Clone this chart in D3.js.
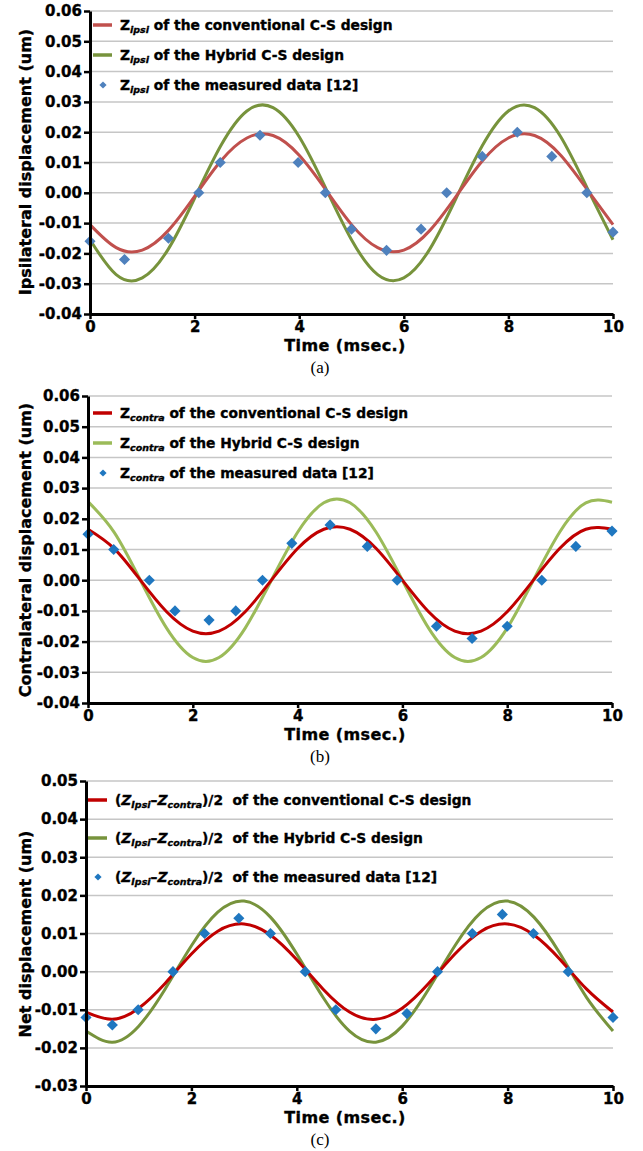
<!DOCTYPE html>
<html lang="en">
<head>
<meta charset="UTF-8">
<title>Ipsilateral / contralateral / net displacement</title>
<script src="https://d3js.org/d3.v7.min.js"></script>
<style>
  body { margin: 0; background: #fff; }
  text { white-space: pre; }
</style>
</head>
<body>
<script>
// sample times for the fitted curves (ms)
var timeGrid = [0, 0.5, 1, 1.5, 2, 2.5, 3, 3.5, 4, 4.5, 5, 5.5, 6, 6.5, 7, 7.5, 8, 8.5, 9, 9.5, 10];

// (a) ipsilateral
var ipsiConv = [-0.0105, -0.0181, -0.0189, -0.0124, -0.0012, 0.0105, 0.0181, 0.0189, 0.0124, 0.0012,
                -0.0105, -0.0181, -0.0189, -0.0124, -0.0012, 0.0105, 0.0181, 0.0189, 0.0124, 0.0012, -0.0105];
var ipsiHybrid = [-0.0155, -0.0270, -0.0281, -0.0185, -0.0018, 0.0155, 0.0270, 0.0281, 0.0185, 0.0018,
                  -0.0155, -0.0270, -0.0281, -0.0185, -0.0018, 0.0155, 0.0270, 0.0281, 0.0185, 0.0018, -0.0155];
var ipsiMeasT = [0, 0.66, 1.5, 2.08, 2.49, 3.25, 3.98, 4.5, 5.0, 5.67, 6.33, 6.82, 7.5, 8.17, 8.83, 9.5, 10];
var ipsiMeasV = [-0.016, -0.022, -0.015, 0, 0.010, 0.019, 0.010, 0, -0.012, -0.019, -0.012, 0, 0.012, 0.020, 0.012, 0, -0.013];

// (b) contralateral
var contraConv = [0.0166, 0.0103, 0, -0.0103, -0.0166, -0.0166, -0.0103, 0, 0.0103, 0.0166,
                  0.0166, 0.0103, 0, -0.0103, -0.0166, -0.0166, -0.0103, 0, 0.0103, 0.0166, 0.0166];
var contraHybrid = [0.0256, 0.0156, 0, -0.0156, -0.0252, -0.0252, -0.0156, 0, 0.0156, 0.0252,
                    0.0252, 0.0156, 0, -0.0156, -0.0252, -0.0252, -0.0156, 0, 0.0156, 0.0252, 0.0254];
var contraMeasT = [0, 0.49, 1.17, 1.66, 2.31, 2.82, 3.33, 3.89, 4.62, 5.33, 5.9, 6.65, 7.33, 8.0, 8.66, 9.31, 10];
var contraMeasV = [0.015, 0.010, 0, -0.010, -0.013, -0.010, 0, 0.012, 0.018, 0.011, 0, -0.015, -0.019, -0.015, 0, 0.011, 0.016];

// (c) net
var netConv = [-0.0106, -0.0125, -0.0096, -0.0031, 0.0046, 0.0106, 0.0125, 0.0096, 0.0031, -0.0046,
               -0.0106, -0.0125, -0.0096, -0.0031, 0.0046, 0.0106, 0.0125, 0.0096, 0.0031, -0.0046, -0.0106];
var netHybrid = [-0.0156, -0.0185, -0.0143, -0.0046, 0.0068, 0.0156, 0.0185, 0.0143, 0.0046, -0.0068,
                 -0.0156, -0.0185, -0.0143, -0.0046, 0.0068, 0.0156, 0.0185, 0.0143, 0.0046, -0.0068, -0.0156];
var netMeasT = [0, 0.5, 0.99, 1.65, 2.25, 2.9, 3.5, 4.16, 4.74, 5.5, 6.09, 6.67, 7.33, 7.9, 8.49, 9.15, 10];
var netMeasV = [-0.012, -0.014, -0.010, 0, 0.010, 0.014, 0.010, 0, -0.010, -0.015, -0.011, 0, 0.010, 0.015, 0.010, 0, -0.012];

// ticks
var xTicks = [0, 2, 4, 6, 8, 10];
var yTicksAB = [-0.04, -0.03, -0.02, -0.01, 0, 0.01, 0.02, 0.03, 0.04, 0.05, 0.06];
var yTicksC = [-0.03, -0.02, -0.01, 0, 0.01, 0.02, 0.03, 0.04, 0.05];

var W = 643, H = 1151;
var sans = "'DejaVu Sans', Verdana, sans-serif";

var svg = d3.select('body').append('svg')
    .attr('width', W)
    .attr('height', H);

function subLabel(sym, rest) {
    return [{t: 'Z'}, {t: sym, sub: true, it: true}, {t: rest}];
}
function netLabel(rest) {
    return [{t: '('}, {t: 'Z', it: true}, {t: 'Ipsi', sub: true, it: true}, {t: '\u2013'},
            {t: 'Z', it: true}, {t: 'contra', sub: true, it: true}, {t: ')/2  ' + rest}];
}

var panels = [
    {
        x0: 90, x1: 613, yTop: 11, yBot: 314, yDomain: [-0.04, 0.06], yTicks: yTicksAB,
        conv: ipsiConv, hyb: ipsiHybrid, measT: ipsiMeasT, measV: ipsiMeasV,
        red: '#c0504d', green: '#77933c', blue: '#4f81bd',
        yTitle: 'Ipsilateral displacement (um)', yTitleY: 162,
        caption: '(a)', legendX: 93, legendY: [25, 55, 85],
        labels: [subLabel('ipsi', ' of the conventional C-S design'),
                 subLabel('ipsi', ' of the Hybrid C-S design'),
                 subLabel('ipsi', ' of the measured data [12]')]
    },
    {
        x0: 88, x1: 612, yTop: 396, yBot: 703, yDomain: [-0.04, 0.06], yTicks: yTicksAB,
        conv: contraConv, hyb: contraHybrid, measT: contraMeasT, measV: contraMeasV,
        red: '#c00000', green: '#9bbb59', blue: '#1f77c0',
        yTitle: 'Contralateral displacement (um)', yTitleY: 550,
        caption: '(b)', legendX: 93, legendY: [413, 443, 473],
        labels: [subLabel('contra', ' of the conventional C-S design'),
                 subLabel('contra', ' of the Hybrid C-S design'),
                 subLabel('contra', ' of the measured data [12]')]
    },
    {
        x0: 86, x1: 613, yTop: 781, yBot: 1086, yDomain: [-0.03, 0.05], yTicks: yTicksC,
        conv: netConv, hyb: netHybrid, measT: netMeasT, measV: netMeasV,
        red: '#c00000', green: '#77933c', blue: '#1f77c0',
        yTitle: 'Net displacement (um)', yTitleY: 934,
        caption: '(c)', legendX: 88, legendY: [800, 838, 877],
        labels: [netLabel('of the conventional C-S design'),
                 netLabel('of the Hybrid C-S design'),
                 netLabel('of the measured data [12]')]
    }
];

var diamond = d3.symbol().type(d3.symbolSquare).size(62);
var diamondSmall = d3.symbol().type(d3.symbolSquare).size(26);

// heavy bold text like the original figure
function heavy(sel) {
    return sel.attr('font-family', sans)
        .attr('font-weight', 'bold')
        .attr('stroke', '#000')
        .attr('stroke-width', 0.35);
}

panels.forEach(function (p) {
    var g = svg.append('g');
    var x = d3.scaleLinear().domain([0, 10]).range([p.x0, p.x1]);
    var y = d3.scaleLinear().domain(p.yDomain).range([p.yBot, p.yTop]);

    // gridlines
    g.selectAll('.grid')
        .data(p.yTicks.slice(1))
        .enter().append('line')
        .attr('x1', p.x0).attr('x2', p.x1)
        .attr('y1', function (d) { return y(d); })
        .attr('y2', function (d) { return y(d); })
        .attr('stroke', '#c6c6c6')
        .attr('stroke-width', 1.5);

    // legend
    p.labels.forEach(function (lab, i) {
        var ly = p.legendY[i];
        if (i < 2) {
            g.append('line')
                .attr('x1', p.legendX).attr('x2', p.legendX + 19)
                .attr('y1', ly).attr('y2', ly)
                .attr('stroke', i === 0 ? p.red : p.green)
                .attr('stroke-width', 3.5);
        } else {
            g.append('path')
                .attr('d', diamondSmall)
                .attr('transform', 'translate(' + (p.legendX + 10) + ',' + ly + ') rotate(45)')
                .attr('fill', p.blue);
        }
        var t = heavy(g.append('text'))
            .attr('x', p.legendX + 27)
            .attr('y', ly + 5)
            .attr('font-size', 13.8);
        var shifted = false;
        lab.forEach(function (part) {
            var s = t.append('tspan').text(part.t);
            if (part.it) s.attr('font-style', 'italic');
            if (part.sub) {
                s.attr('font-size', 9.5).attr('dy', 3);
                shifted = true;
            } else if (shifted) {
                s.attr('dy', -3);
                shifted = false;
            }
        });
    });

    // curves
    var line = d3.line()
        .x(function (d) { return x(d[0]); })
        .y(function (d) { return y(d[1]); })
        .curve(d3.curveNatural);

    g.append('path')
        .attr('d', line(d3.zip(timeGrid, p.hyb)))
        .attr('fill', 'none')
        .attr('stroke', p.green)
        .attr('stroke-width', 3);
    g.append('path')
        .attr('d', line(d3.zip(timeGrid, p.conv)))
        .attr('fill', 'none')
        .attr('stroke', p.red)
        .attr('stroke-width', 3);

    // measured points
    g.selectAll('.meas')
        .data(d3.zip(p.measT, p.measV))
        .enter().append('path')
        .attr('d', diamond)
        .attr('transform', function (d) {
            return 'translate(' + x(d[0]) + ',' + y(d[1]) + ') rotate(45)';
        })
        .attr('fill', p.blue);

    // axes
    var yAxis = d3.axisLeft(y)
        .tickValues(p.yTicks)
        .tickSize(6)
        .tickSizeOuter(0)
        .tickPadding(2)
        .tickFormat(function (d) { return d.toFixed(2); });
    var xAxis = d3.axisBottom(x)
        .tickValues(xTicks)
        .tickSize(5)
        .tickSizeOuter(0)
        .tickPadding(2)
        .tickFormat(d3.format('d'));

    var ya = g.append('g')
        .attr('transform', 'translate(' + p.x0 + ',0)')
        .call(yAxis);
    var xa = g.append('g')
        .attr('transform', 'translate(0,' + p.yBot + ')')
        .call(xAxis);

    [ya, xa].forEach(function (a) {
        a.attr('font-family', sans).attr('font-weight', 'bold').attr('font-size', 15);
        a.select('.domain').attr('stroke', '#000').attr('stroke-width', 3);
        a.selectAll('.tick line').attr('stroke', '#000').attr('stroke-width', 2.5);
        a.selectAll('.tick text').attr('fill', '#000')
            .attr('stroke', '#000').attr('stroke-width', 0.35);
    });

    // titles
    heavy(g.append('text'))
        .attr('transform', 'translate(31,' + p.yTitleY + ') rotate(-90)')
        .attr('text-anchor', 'middle')
        .attr('font-size', 16)
        .text(p.yTitle);

    heavy(g.append('text'))
        .attr('x', 345)
        .attr('y', p.yBot + 37)
        .attr('text-anchor', 'middle')
        .attr('font-size', 16)
        .attr('letter-spacing', 0.4)
        .text('Time (msec.)');

    g.append('text')
        .attr('x', 320)
        .attr('y', p.yBot + 59)
        .attr('text-anchor', 'middle')
        .attr('font-family', "'Liberation Serif', 'Times New Roman', serif")
        .attr('font-size', 17)
        .text(p.caption);
});
</script>
</body>
</html>
